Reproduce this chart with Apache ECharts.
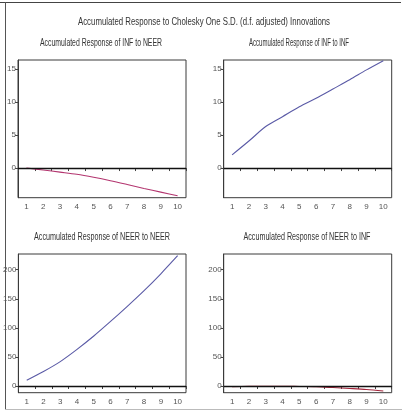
<!DOCTYPE html>
<html><head><meta charset="utf-8">
<script src="https://cdn.jsdelivr.net/npm/echarts@6/dist/echarts.min.js"></script>
<style>html,body{margin:0;padding:0;background:#fff}#c{width:402px;height:412px}</style>
</head><body><div id="c"></div>
<script>
const categories = ['1','2','3','4','5','6','7','8','9','10'];
const infToNeer  = [0, -0.3, -0.62, -0.95, -1.4, -1.92, -2.5, -3.1, -3.65, -4.2];
const infToInf   = [2.0, 4.1, 6.3, 7.8, 9.3, 10.6, 12.0, 13.4, 14.9, 16.3];
const neerToNeer = [10, 25, 42, 63, 86, 111, 137, 164, 193, 224];
const neerToInf  = [-1.2, -0.6, -0.4, -0.4, -0.8, -1.2, -2.6, -4.2, -6.0, -8.6];
const topTicks = [0, 5, 10, 15];
const bottomTicks = [0, 50, 100, 150, 200];
const mainTitle = 'Accumulated Response to Cholesky One S.D. (d.f. adjusted) Innovations';
const panelTitles = ['Accumulated Response of INF to NEER','Accumulated Response of INF to INF',
                     'Accumulated Response of NEER to NEER','Accumulated Response of NEER to INF'];

const FAM = "'Liberation Sans Narrow','Liberation Sans',Arial,sans-serif";
const cv = document.createElement('canvas').getContext('2d');
function fitText(str, cx, cy, w, size) {
  cv.font = size + 'px ' + FAM;
  const nat = cv.measureText(str).width;
  return {type:'text', x:cx, y:cy, scaleX:w/nat, silent:true,
    style:{text:str, x:0, y:0, align:'center', verticalAlign:'middle', fontSize:size, fontFamily:FAM, fill:'#333'}};
}

const grids = [
  {left:18, top:60, width:168, height:137.7},
  {left:223.7, top:60, width:168, height:137.7},
  {left:18.3, top:254, width:167.7, height:138.7},
  {left:223.7, top:254, width:168, height:138.7}
].map(g => Object.assign(g, {show:true, borderColor:'#3a3a3a', borderWidth:1, backgroundColor:'#fff'}));

const ranges = [[-4.5,16.4,topTicks],[-4.5,16.4,topTicks],[-11.5,227,bottomTicks],[-11.5,227,bottomTicks]];
const datas = [infToNeer, infToInf, neerToNeer, neerToInf];
const colors = ['#b3356f', '#5a5aa6', '#5a5aa6', '#a3243a'];

const option = {
  animation:false,
  grid: grids,
  xAxis: grids.map((g,i)=>({type:'category', gridIndex:i, data:categories, boundaryGap:true,
    axisLine:{show:true, lineStyle:{color:'#3a3a3a', width:1}},
    axisTick:{show:true, length:3, alignWithLabel:false, lineStyle:{color:'#444'}},
    axisLabel:{fontSize:8, color:'#555', margin:5, fontFamily:FAM, interval:0},
    splitLine:{show:false}})),
  yAxis: grids.map((g,i)=>({type:'value', gridIndex:i, min:ranges[i][0], max:ranges[i][1],
    axisLine:{show:true, lineStyle:{color:'#3a3a3a', width:1}},
    axisTick:{show:true, length:3, customValues:ranges[i][2], lineStyle:{color:'#444'}},
    axisLabel:{fontSize:8, color:'#555', margin:2, fontFamily:FAM, customValues:ranges[i][2]},
    splitLine:{show:false}})),
  series: datas.map((d,i)=>({type:'line', xAxisIndex:i, yAxisIndex:i, data:d, smooth:0.3,
    symbol:'none', lineStyle:{color:colors[i], width:1.1},
    markLine:{silent:true, symbol:'none', label:{show:false},
      lineStyle:{color:'#111', width:1.4, type:'solid'}, data:[{yAxis:0}]}})),
  graphic: [
    {type:'line', silent:true, shape:{x1:0,y1:2.5,x2:401,y2:2.5}, style:{stroke:'#444', lineWidth:1}},
    {type:'line', silent:true, shape:{x1:5.5,y1:2,x2:5.5,y2:409}, style:{stroke:'#555', lineWidth:1}},
    {type:'line', silent:true, shape:{x1:5,y1:409.5,x2:402,y2:409.5}, style:{stroke:'#bbb', lineWidth:1}},
    fitText(mainTitle, 204, 22, 252, 11),
    fitText(panelTitles[0], 101, 43, 122, 10),
    fitText(panelTitles[1], 299, 43, 100, 10),
    fitText(panelTitles[2], 102, 237, 136, 10),
    fitText(panelTitles[3], 307, 237, 127, 10)
  ]
};
const chart = echarts.init(document.getElementById('c'), null, {renderer:'canvas'});
chart.setOption(option);
</script></body></html>
